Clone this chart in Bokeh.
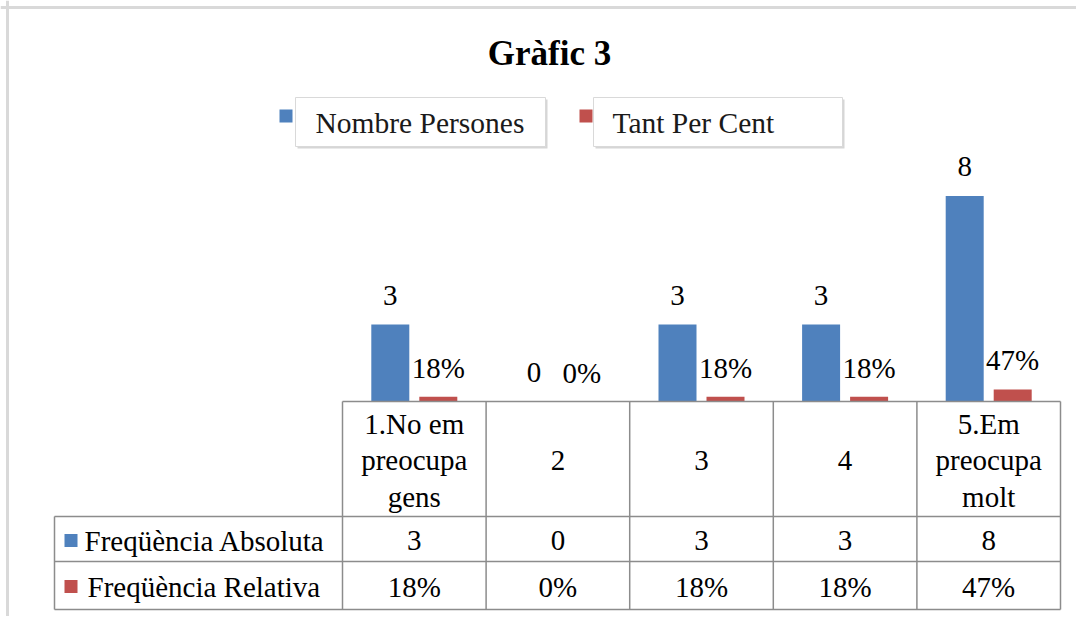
from bokeh.plotting import figure
from bokeh.models import ColumnDataSource, Span
from bokeh.core.properties import value
from bokeh.transform import dodge
from bokeh.embed import file_html
from bokeh.resources import INLINE

# ---------------- data ----------------
title_text = "Gràfic 3"
categories = ["1.No em\npreocupa\ngens", "2", "3", "4", "5.Em\npreocupa\nmolt"]
nombre_persones = [3, 0, 3, 3, 8]
tant_per_cent = [0.18, 0.0, 0.18, 0.18, 0.47]
series_names = ["Nombre Persones", "Tant Per Cent"]
row_names = ["Freqüència Absoluta", "Freqüència Relativa"]

# ---------------- style ----------------
BLUE = "#4f81bd"
RED = "#c0504d"
GRID = "#8c8c8c"
FRAME = "#d9d9d9"
FONT = "'Liberation Serif'"
FS = "29px"

ORIG = 1           # page offset of the canvas
W, H = 1076, 616
COL_W = 143.6      # pixel width of one category column
X0 = 343           # page x of the left edge of the first column
BASE = 402         # page y of the value 0
PX_PER_UNIT = 25.7 # pixels per value unit


def dx(px):
    return 0.5 + (px - X0) / COL_W


def dy(py):
    return (BASE - py) / PX_PER_UNIT


p = figure(width=W, height=H, x_range=(dx(ORIG), dx(ORIG + W)),
           y_range=(dy(ORIG + H), dy(ORIG)),
           output_backend="svg", toolbar_location=None, min_border=0,
           x_axis_type=None, y_axis_type=None)
p.grid.visible = False
p.outline_line_color = None
p.background_fill_color = "white"
p.border_fill_color = "white"

idx = list(range(1, len(categories) + 1))
src = ColumnDataSource(dict(
    x=idx, cat=categories, n=nombre_persones, t=tant_per_cent,
    n_lbl=[str(v) for v in nombre_persones],
    t_lbl=[f"{round(v * 100)}%" for v in tant_per_cent],
))

OFF = 24 / COL_W
BW = 38 / COL_W

# bars
p.vbar(x=dodge("x", -OFF), top="n", bottom=0, width=BW, source=src,
       fill_color=BLUE, line_color=None)
p.vbar(x=dodge("x", OFF), top="t", bottom=0, width=BW, source=src,
       fill_color=RED, line_color=None)

# data labels
p.text(x=dodge("x", -OFF), y="n", text="n_lbl", source=src, y_offset=-29,
       text_align="center", text_baseline="middle",
       text_font=value(FONT), text_font_size=value(FS), text_color="black")
p.text(x=dodge("x", OFF), y="t", text="t_lbl", source=src, y_offset=-29,
       text_align="center", text_baseline="middle",
       text_font=value(FONT), text_font_size=value(FS), text_color="black")

# ---------------- data table ----------------
left_x = dx(55)
right_x = idx[-1] + 0.5
row_tops = [dy(517), dy(562)]
row_bottom = dy(610)
bounds = [i - 0.5 for i in idx] + [idx[-1] + 0.5]

# horizontal lines
p.segment(x0=[bounds[0]], y0=[0], x1=[right_x], y1=[0], line_color=GRID, line_width=1.5)
p.segment(x0=[left_x] * 3, y0=row_tops + [row_bottom], x1=[right_x] * 3,
          y1=row_tops + [row_bottom], line_color=GRID, line_width=1.5)
# vertical lines
p.segment(x0=bounds, y0=[0] * len(bounds), x1=bounds, y1=[row_bottom] * len(bounds),
          line_color=GRID, line_width=1.5)
p.segment(x0=[left_x], y0=[row_tops[0]], x1=[left_x], y1=[row_bottom],
          line_color=GRID, line_width=1.5)

# header (categories)
p.text(x="x", y=dy(461), text="cat", source=src, text_align="center",
       text_baseline="middle", text_line_height=1.15,
       text_font=value(FONT), text_font_size=value(FS), text_color="black")

# row values
row_centers = [dy(541), dy(587)]
p.text(x="x", y=row_centers[0], text="n_lbl", source=src, text_align="center",
       text_baseline="middle", text_font=value(FONT), text_font_size=value(FS),
       text_color="black")
p.text(x="x", y=row_centers[1], text="t_lbl", source=src, text_align="center",
       text_baseline="middle", text_font=value(FONT), text_font_size=value(FS),
       text_color="black")

# row names with colour keys
key_l, key_r = dx(65), dx(78)
p.quad(left=[key_l, key_l], right=[key_r, key_r],
       top=[c + 6.5 / PX_PER_UNIT for c in row_centers],
       bottom=[c - 6.5 / PX_PER_UNIT for c in row_centers],
       fill_color=[BLUE, RED], line_color=None)
p.text(x=[dx(85), dx(88)], y=row_centers, text=row_names, text_align="left",
       text_baseline="middle", text_font=value(FONT), text_font_size=value(FS),
       text_color="black")

# ---------------- legend ----------------
box_l = [dx(296), dx(594)]
box_r = [dx(546), dx(843)]
box_t, box_b = dy(98), dy(147)
sh_x, sh_y = 2 / COL_W, 2 / PX_PER_UNIT
p.quad(left=[b + sh_x for b in box_l], right=[b + sh_x for b in box_r],
       top=[box_t - sh_y] * 2, bottom=[box_b - sh_y] * 2,
       fill_color="#d6d6d6", line_color=None)
p.quad(left=box_l, right=box_r, top=[box_t] * 2, bottom=[box_b] * 2,
       fill_color="white", line_color=FRAME, line_width=1)
p.quad(left=[dx(280), dx(580)], right=[dx(293), dx(593)],
       top=[dy(110)] * 2, bottom=[dy(123)] * 2,
       fill_color=[BLUE, RED], line_color=None)
p.text(x=[dx(316), dx(613)], y=[dy(123)] * 2, text=series_names,
       text_align="left", text_baseline="middle",
       text_font=value(FONT), text_font_size=value("29.5px"), text_color="#1a1a1a")

# ---------------- title ----------------
p.text(x=[dx(550)], y=[dy(54)], text=[title_text], text_align="center",
       text_baseline="middle", text_font=value(FONT),
       text_font_size=value("35px"), text_font_style="bold", text_color="black")

# ---------------- outer frame (top & left visible) ----------------
p.add_layout(Span(location=dx(8), dimension="height", line_color=FRAME, line_width=3))
p.add_layout(Span(location=dy(8), dimension="width", line_color=FRAME, line_width=3))

open("out.html", "w").write(file_html(p, INLINE))
